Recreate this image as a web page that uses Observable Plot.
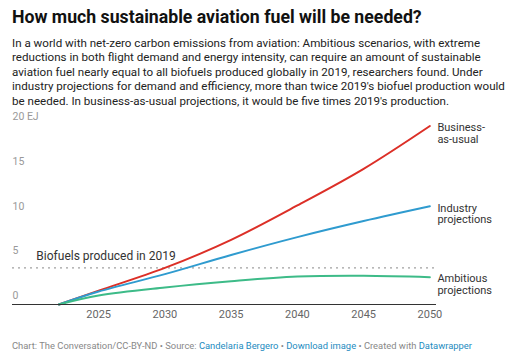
<!DOCTYPE html>
<html>
<head>
<meta charset="utf-8">
<script src="https://cdn.jsdelivr.net/npm/d3@7"></script>
<script src="https://cdn.jsdelivr.net/npm/@observablehq/plot@0.6"></script>
<style>
  html, body { margin: 0; padding: 0; background: #fff; }
  body { width: 505px; height: 363px; position: relative; overflow: hidden; font-family: Roboto, sans-serif; }
  #title { position: absolute; left: 12px; top: 6px; font-weight: 700; font-size: 17.7px; line-height: 22px; color: #111; white-space: nowrap; }
  #subtitle { position: absolute; left: 12px; top: 35.5px; font-size: 11.6px; line-height: 14.6px; color: #222; white-space: nowrap; }
  #chart { position: absolute; left: 0; top: 108px; }
  #footer { position: absolute; left: 12px; top: 339px; font-size: 9.4px; line-height: 14px; color: #888; white-space: nowrap; }
  #footer .l { color: #1d8bc0; }
</style>
</head>
<body>
<div id="title">How much sustainable aviation fuel will be needed?</div>
<div id="subtitle">In a world with net-zero carbon emissions from aviation: Ambitious scenarios, with extreme<br>reductions in both flight demand and energy intensity, can require an amount of sustainable<br>aviation fuel nearly equal to all biofuels produced globally in 2019, researchers found. Under<br>industry projections for demand and efficiency, more than twice 2019's biofuel production would<br>be needed. In business-as-usual projections, it would be five times 2019's production.</div>
<div id="chart"></div>
<div id="footer">Chart: The Conversation/CC-BY-ND • Source: <span class="l">Candelaria Bergero</span> • <span class="l">Download image</span> • Created with <span class="l">Datawrapper</span></div>
<script>
const years = [2022, 2025, 2030, 2035, 2040, 2045, 2050];
const businessAsUsual = [0, 1.55, 4.1, 7.25, 11.1, 15.2, 20.0];
const industry = [0, 1.45, 3.4, 5.55, 7.55, 9.35, 11.0];
const ambitious = [0, 1.0, 1.9, 2.6, 3.13, 3.22, 3.06];
const seriesNames = ["Business-\nas-usual", "Industry\nprojections", "Ambitious\nprojections"];
const seriesColors = ["#dc2f27", "#2f9bcf", "#3dbb88"];
const biofuels2019 = 4.1;
const biofuelsLabel = "Biofuels produced in 2019";
const yTicks = [0, 5, 10, 15, 20];
const xTicks = [2025, 2030, 2035, 2040, 2045, 2050];

const seriesValues = [businessAsUsual, industry, ambitious];
const data = [];
seriesValues.forEach((vals, s) => {
  vals.forEach((v, i) => data.push({series: seriesNames[s], year: years[i], value: v}));
});
const lastPoints = seriesNames.map((name, s) => ({series: name, year: years[years.length - 1], value: seriesValues[s][years.length - 1]}));

const chart = Plot.plot({
  width: 505,
  height: 220,
  marginLeft: 12,
  marginRight: 69,
  marginTop: 17.5,
  marginBottom: 24,
  style: {fontFamily: "Roboto, sans-serif", background: "transparent"},
  x: {domain: [2018.5, 2050.5], axis: null},
  y: {domain: [0, 20], axis: null},
  color: {domain: seriesNames, range: seriesColors},
  marks: [
    Plot.ruleY([biofuels2019], {stroke: "#888", strokeWidth: 1, strokeDasharray: "2,4"}),
    Plot.text([biofuelsLabel], {x: 2020.3, y: biofuels2019, text: d => d, textAnchor: "start", dy: -12, fontSize: 12, fill: "#333"}),
    Plot.lineY(data, {x: "year", y: "value", stroke: "series", z: "series", strokeWidth: 2, curve: "catmull-rom"}),
    Plot.text(lastPoints, {x: "year", y: "value", text: "series", textAnchor: "start", lineAnchor: "top", dx: 7.5, dy: -3, fontSize: 11, lineHeight: 1.05, fill: "#333"}),
    Plot.text(yTicks, {x: 2018.5, y: d => d, text: d => d === 20 ? "20 EJ" : String(d), textAnchor: "start", dy: -9, fontSize: 10.5, fill: "#999"}),
    Plot.axisX({ticks: xTicks, tickFormat: d => String(d), tickSize: 0, tickPadding: 6, fontSize: 11, color: "#666", label: null}),
    Plot.ruleY([0], {stroke: "#333", strokeWidth: 1.2})
  ]
});
document.getElementById("chart").appendChild(chart);
</script>
</body>
</html>
